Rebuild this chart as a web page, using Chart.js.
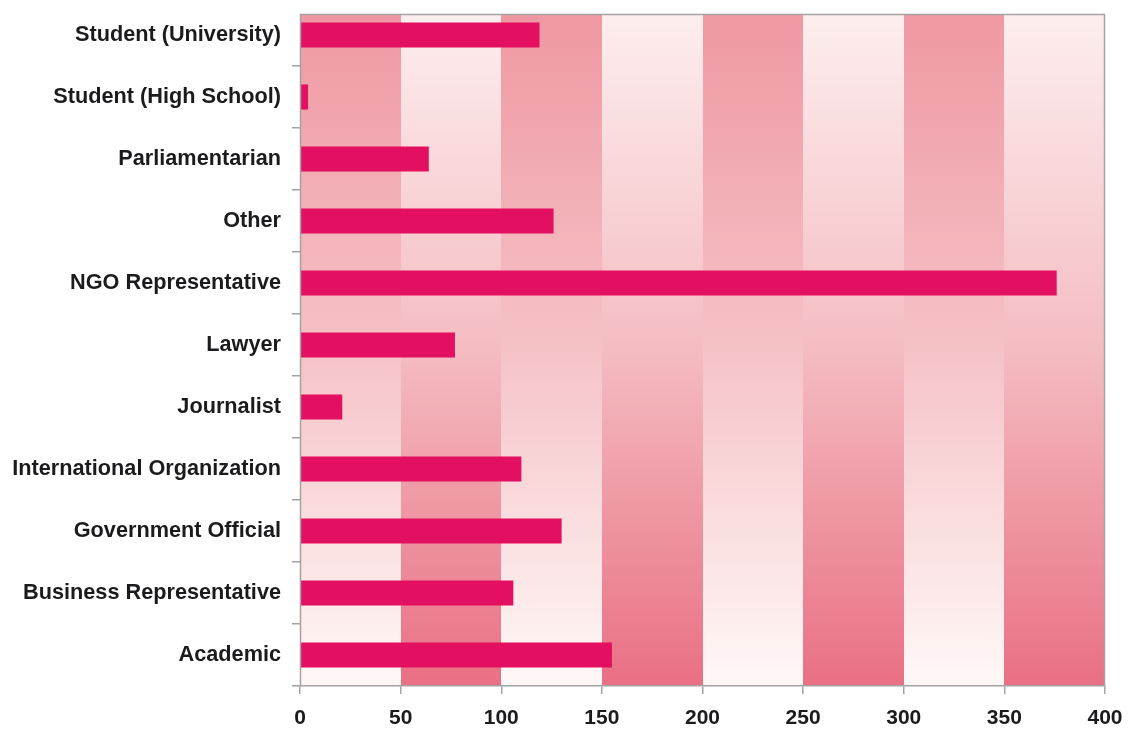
<!DOCTYPE html>
<html>
<head>
<meta charset="utf-8">
<script src="https://cdn.jsdelivr.net/npm/chart.js@4.4.1/dist/chart.umd.min.js"></script>
<style>
  html, body { margin: 0; padding: 0; background: #fff; }
  #wrap { width: 1128px; height: 731px; }
</style>
</head>
<body>
<div id="wrap"><canvas id="chart" width="1128" height="731"></canvas></div>
<script>
// categories, top to bottom
const categories = [
  'Student (University)',
  'Student (High School)',
  'Parliamentarian',
  'Other',
  'NGO Representative',
  'Lawyer',
  'Journalist',
  'International Organization',
  'Government Official',
  'Business Representative',
  'Academic'
];
const counts = [119, 4, 64, 126, 376, 77, 21, 110, 130, 106, 155];

const xMin = 0;
const xMax = 400;
const xStep = 50;

const barColor = '#e30f60';
const axisColor = '#a3a3a3';
const textColor = '#1b1b1d';
const yFont = { family: 'Liberation Sans, Arial, Helvetica, sans-serif', size: 21.7, weight: 'bold' };
const xFont = { family: 'Liberation Sans, Arial, Helvetica, sans-serif', size: 21, weight: 'bold' };

// the top row is cut off a bit by the frame, like in the source figure
const frameTopValue = -0.345;

// alternating gradient bands behind the bars
const bandsPlugin = {
  id: 'bands',
  beforeDraw(chart){
    const {ctx, chartArea, scales} = chart;
    const x = scales.x, y = scales.y;
    const top = Math.round(y.getPixelForValue(frameTopValue));
    const bottom = chartArea.bottom;
    ctx.save();
    let i = 0;
    for (let v = xMin; v < xMax; v += xStep, i++){
      const x0 = Math.round(x.getPixelForValue(v));
      const x1 = Math.round(x.getPixelForValue(v + xStep));
      const g = ctx.createLinearGradient(0, top, 0, bottom);
      if (i % 2 === 0){
        g.addColorStop(0, '#ef98a3');
        g.addColorStop(0.5, '#f5c2c6');
        g.addColorStop(1, '#fff8f7');
      } else {
        g.addColorStop(0, '#fdeeee');
        g.addColorStop(0.5, '#f4bcc1');
        g.addColorStop(1, '#e96f84');
      }
      ctx.fillStyle = g;
      ctx.fillRect(x0, top, x1 - x0, bottom - top);
    }
    ctx.restore();
  },
  afterDatasetsDraw(chart){
    const {ctx, chartArea, scales} = chart;
    const top = Math.round(scales.y.getPixelForValue(frameTopValue)) + 0.5;
    const left = chartArea.left + 0.5;
    const right = chartArea.right - 0.5;
    ctx.save();
    ctx.strokeStyle = axisColor;
    ctx.lineWidth = 1.5;
    ctx.beginPath();
    ctx.moveTo(left, chartArea.bottom);
    ctx.lineTo(left, top);
    ctx.lineTo(right, top);
    ctx.lineTo(right, chartArea.bottom);
    ctx.stroke();
    ctx.restore();
  }
};

new Chart(document.getElementById('chart'), {
  type: 'bar',
  data: {
    labels: categories,
    datasets: [{
      data: counts,
      backgroundColor: barColor,
      borderWidth: 0,
      categoryPercentage: 1,
      barPercentage: 0.405
    }]
  },
  options: {
    indexAxis: 'y',
    responsive: false,
    animation: false,
    layout: { padding: { top: 4, right: 23, bottom: 0, left: 0 } },
    plugins: {
      legend: { display: false },
      tooltip: { enabled: false }
    },
    scales: {
      x: {
        type: 'linear',
        min: xMin,
        max: xMax,
        ticks: {
          stepSize: xStep,
          color: textColor,
          font: xFont,
          padding: 12,
          maxRotation: 0
        },
        grid: {
          drawOnChartArea: false,
          color: axisColor,
          tickLength: 8,
          lineWidth: 1.5
        },
        border: { color: axisColor, width: 1.5 },
        afterFit(scale){
          scale.height = 45;
          scale.paddingLeft = 0;
          scale.paddingRight = 0;
        }
      },
      y: {
        ticks: {
          color: textColor,
          font: yFont,
          padding: 11
        },
        grid: {
          offset: true,
          drawOnChartArea: false,
          tickLength: 8,
          lineWidth: 1.5,
          tickColor: (c) => (c.index === 0 ? 'rgba(0,0,0,0)' : axisColor)
        },
        border: { display: false },
        afterFit(scale){
          scale.width = 300;
          scale.paddingTop = 0;
          scale.paddingBottom = 0;
        }
      }
    }
  },
  plugins: [bandsPlugin]
});
</script>
</body>
</html>
